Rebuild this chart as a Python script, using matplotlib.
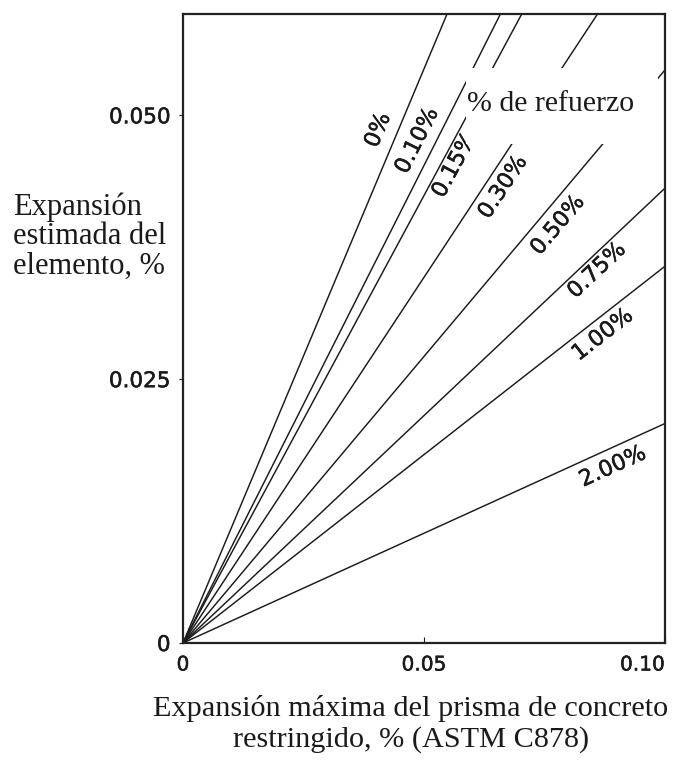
import math
import matplotlib
matplotlib.use("Agg")
import matplotlib.pyplot as plt
import matplotlib.patheffects as pe
from matplotlib.patches import Rectangle

# Reinforcement ratio for each line and the estimated member expansion (%)
# reached at a prism expansion of 0.10 %
refuerzo = ["0%", "0.10%", "0.15%", "0.30%", "0.50%", "0.75%", "1.00%", "2.00%"]
expansion_at_010 = [0.1088, 0.0905, 0.0848, 0.0693, 0.0543, 0.0431, 0.0357, 0.0208]

x_ticks = [0, 0.05, 0.10]
x_tick_labels = ["0", "0.05", "0.10"]
y_ticks = [0, 0.025, 0.050]
y_tick_labels = ["0", "0.025", "0.050"]

# Where each inline label sits (data units)
label_pos = [(0.0405, 0.0486), (0.0486, 0.0476), (0.0564, 0.0453), (0.0664, 0.0432),
             (0.0778, 0.0396), (0.0859, 0.0353), (0.0871, 0.0292), (0.0892, 0.0167)]

W, H = 681, 781
fig = plt.figure(figsize=(W / 100, H / 100), dpi=100)
ax = fig.add_axes([183 / W, (H - 643) / H, (665 - 183) / W, (643 - 14) / H])
ax.set_xlim(0, 0.10)
ax.set_ylim(0, 0.0596)

ink = "#1a1a1a"
medium = [pe.withStroke(linewidth=0.35, foreground=ink)]
x_max = 0.10
for name, y_end in zip(refuerzo, expansion_at_010):
    ax.plot([0, x_max], [0, y_end], color=ink, lw=1.05, zorder=2, solid_capstyle="butt")

# white panel behind the legend title, breaking the lines
ax.add_patch(Rectangle((0.0587, 0.0473), 0.0398, 0.0072, facecolor="white",
                       edgecolor="none", zorder=2.5))
ax.text(0.0590, 0.0504, "% de refuerzo", family="Liberation Serif", fontsize=21.5,
        ha="left", va="baseline", color=ink, zorder=3)

fig.canvas.draw()
for name, y_end, (lx, ly) in zip(refuerzo, expansion_at_010, label_pos):
    p0 = ax.transData.transform((0, 0))
    p1 = ax.transData.transform((x_max, y_end))
    ang = math.degrees(math.atan2(p1[1] - p0[1], p1[0] - p0[0]))
    ax.text(lx, ly, name, rotation=ang, rotation_mode="anchor", ha="center", va="center",
            family="DejaVu Sans", fontsize=16, color=ink, zorder=2.2, path_effects=medium)

for s in ax.spines.values():
    s.set_linewidth(1.6)
    s.set_color("#222222")

ax.set_xticks(x_ticks)
ax.set_xticklabels(x_tick_labels, family="DejaVu Sans", fontsize=14.5)
ax.set_yticks(y_ticks)
ax.set_yticklabels(y_tick_labels, family="DejaVu Sans", fontsize=15.5)
for t in ax.get_xticklabels() + ax.get_yticklabels():
    t.set_path_effects(medium)
ax.tick_params(axis="x", direction="in", length=4, width=0.8, pad=9, colors=ink)
ax.tick_params(axis="y", direction="out", length=3, width=0.8, pad=6, colors=ink)
xt = ax.get_xticklabels()
xt[-1].set_horizontalalignment("right")
xt[-1].set_x(0.10)

fig.text(13 / W, 1 - 193 / H, "Expansión\nestimada del\nelemento, %", family="Liberation Serif",
         fontsize=22, ha="left", va="top", linespacing=1.0, color=ink)
fig.text(411 / W, 1 - 724 / H, "Expansión máxima del prisma de concreto\nrestringido, % (ASTM C878)",
         family="Liberation Serif", fontsize=21.8, ha="center", va="center",
         linespacing=1.15, color=ink)

fig.savefig("out.png", dpi=100, facecolor="white")
